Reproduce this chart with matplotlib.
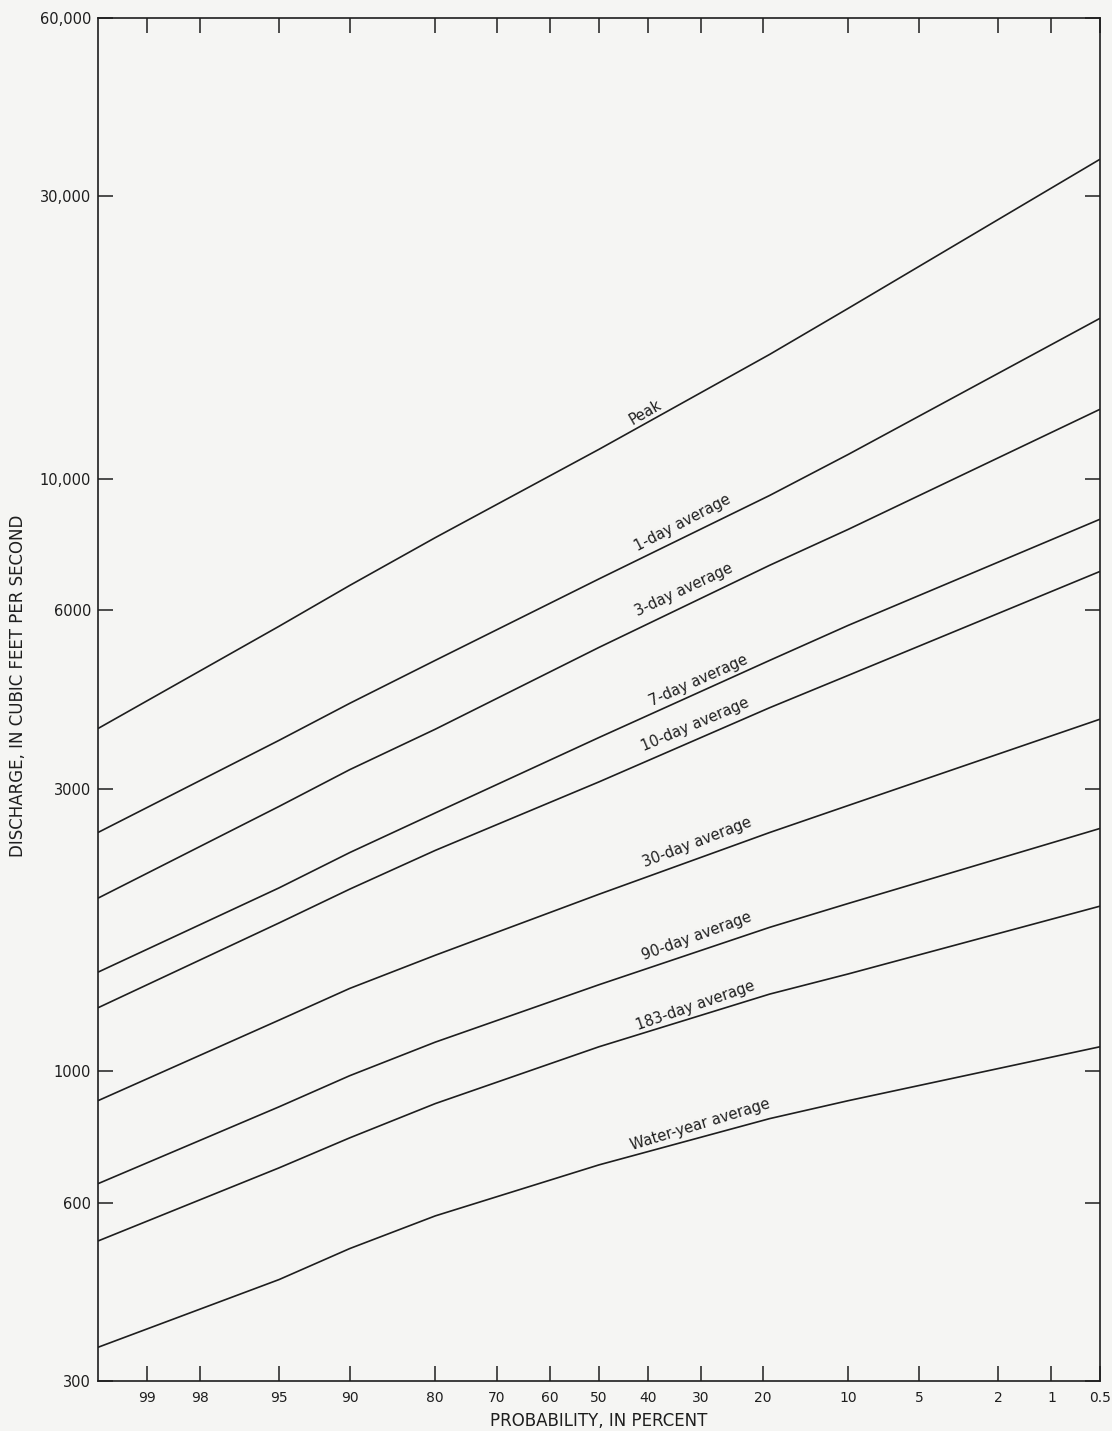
import numpy as np
import matplotlib
matplotlib.use("Agg")
import matplotlib.pyplot as plt
from matplotlib.ticker import FixedLocator, NullLocator, FixedFormatter
from statistics import NormalDist

# ---------------- data ----------------
prob = [99.5, 95, 90, 80, 50, 19, 10, 0.5]   # exceedance probability, percent

peak       = [3790, 5640, 6610, 7960, 11220, 16230, 19410, 34650]
day1       = [2530, 3620, 4180, 4940, 6780, 9380, 11000, 18670]
day3       = [1960, 2800, 3230, 3780, 5195, 7150, 8220, 13110]
day7       = [1470, 2040, 2340, 2730, 3660, 4940, 5660, 8550]
day10      = [1280, 1780, 2030, 2360, 3080, 4110, 4660, 6980]
day30      = [892, 1220, 1380, 1570, 1990, 2530, 2810, 3930]
day90      = [646, 871, 983, 1120, 1400, 1750, 1920, 2570]
day183     = [517, 687, 772, 882, 1100, 1350, 1460, 1900]
water_year = [342, 445, 502, 570, 695, 832, 892, 1100]

series = [peak, day1, day3, day7, day10, day30, day90, day183, water_year]
labels = ["Peak", "1-day average", "3-day average", "7-day average",
          "10-day average", "30-day average", "90-day average",
          "183-day average", "Water-year average"]

x_ticks = [99, 98, 95, 90, 80, 70, 60, 50, 40, 30, 20, 10, 5, 2, 1, 0.5]
x_ticklabels = ["99", "98", "95", "90", "80", "70", "60", "50", "40", "30",
                "20", "10", "5", "2", "1", "0.5"]
y_ticks = [300, 600, 1000, 3000, 6000, 10000, 30000, 60000]
y_ticklabels = ["300", "600", "1000", "3000", "6000", "10,000", "30,000", "60,000"]

# ---------------- normal probability scale ----------------
_nd = NormalDist()

def _fwd(p):
    p = np.asarray(p, dtype=float)
    q = np.clip(p / 100.0, 1e-9, 1 - 1e-9)
    out = np.array([_nd.inv_cdf(v) if np.isfinite(v) else np.nan for v in q.ravel()])
    return out.reshape(q.shape)

def _inv(z):
    z = np.asarray(z, dtype=float)
    out = np.array([100.0 * _nd.cdf(v) if np.isfinite(v) else np.nan for v in z.ravel()])
    return out.reshape(z.shape)

# ---------------- figure ----------------
bg = "#f5f5f3"
ink = "#1e1e1e"
fig = plt.figure(figsize=(11.12, 14.31), dpi=100, facecolor=bg)
ax = fig.add_axes([98 / 1112, 50 / 1431, 1002 / 1112, 1363 / 1431])
ax.set_facecolor(bg)

ax.set_xscale("function", functions=(_fwd, _inv))
ax.set_yscale("log")

for s in series:
    ax.plot(prob, s, color=ink, lw=1.2, solid_capstyle="butt")

ax.set_xlim(99.5, 0.5)   # high probability on the left
ax.set_ylim(300, 60000)

ax.xaxis.set_major_locator(FixedLocator(x_ticks))
ax.xaxis.set_major_formatter(FixedFormatter(x_ticklabels))
ax.xaxis.set_minor_locator(NullLocator())
ax.yaxis.set_major_locator(FixedLocator(y_ticks))
ax.yaxis.set_major_formatter(FixedFormatter(y_ticklabels))
ax.yaxis.set_minor_locator(NullLocator())

ax.tick_params(axis="both", which="major", direction="in", length=11,
               width=1.1, color=ink, labelcolor=ink)
ax.tick_params(axis="x", top=True, bottom=True, pad=7, labelsize=10)
ax.tick_params(axis="y", left=True, right=True, pad=5, labelsize=10.5)
for sp in ax.spines.values():
    sp.set_linewidth(1.2)
    sp.set_color(ink)

ax.set_xlabel("PROBABILITY, IN PERCENT", fontsize=12, color=ink, labelpad=5)
ax.set_ylabel("DISCHARGE, IN CUBIC FEET PER SECOND", fontsize=12, color=ink)
ax.yaxis.label.set_va("center")
ax.yaxis.set_label_coords(-0.080, 0.51)

# curve labels (centre positions in axes fraction, rotation in degrees)
label_pos = [
    (0.5459, 0.7109, 30.0),
    (0.5838, 0.6295, 27.5),
    (0.5848, 0.5803, 25.0),
    (0.5988, 0.5136, 24.0),
    (0.5958, 0.4813, 23.0),
    (0.5978, 0.3955, 21.0),
    (0.5978, 0.3265, 20.0),
    (0.5958, 0.2751, 19.0),
    (0.6008, 0.1880, 17.0),
]
for text, (fx, fy, rot) in zip(labels, label_pos):
    ax.text(fx, fy, text, transform=ax.transAxes, rotation=rot,
            ha="center", va="center", fontsize=10.5, color=ink,
            rotation_mode="anchor")

fig.savefig("out.png", dpi=100, facecolor=bg)
